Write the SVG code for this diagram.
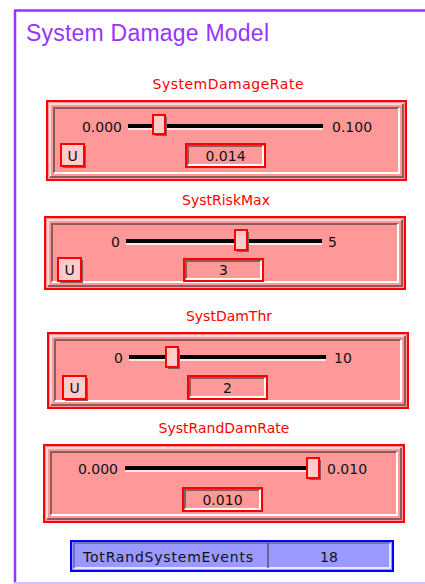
<svg xmlns="http://www.w3.org/2000/svg" width="425" height="584" viewBox="0 0 425 584">
<style>
.pf{fill:#FF9999;stroke:#FF0000;stroke-width:2}
.lt{fill:none;stroke:#FFD9D9;stroke-width:2}
.dk{fill:none;stroke:#8C5C5C;stroke-width:2}
.wt{fill:none;stroke:#FFFFFF;stroke-width:2}
.trk{stroke:#000;stroke-width:4}
.trw{stroke:#FFF;stroke-width:1.5}
.thumb{fill:#FFCCCC;stroke:#FF0000;stroke-width:2}
.btn{fill:#FFCCCC;stroke:#FF0000;stroke-width:2}
.vb{fill:#FF9999;stroke:#FF0000;stroke-width:2}
.lbl{font-family:"DejaVu Sans",sans-serif;font-size:14px;fill:#FF0000;text-anchor:middle}
.t{font-family:"DejaVu Sans",sans-serif;font-size:14px;fill:#111}
.c{text-anchor:middle}
.e{text-anchor:end}
</style>
<g id="frame">
<line x1="15" y1="10" x2="15" y2="584" stroke="#9933FF" stroke-width="2.5"/>
<line x1="14" y1="10.5" x2="425" y2="10.5" stroke="#9933FF" stroke-width="2.5"/>
<line x1="14" y1="583" x2="425" y2="583" stroke="#D9BFFF" stroke-width="2"/>
<text x="26" y="41" font-family="Liberation Sans,Arial,sans-serif" font-size="23" fill="#9933FF" textLength="243" lengthAdjust="spacing">System Damage Model</text>
</g>

<g id="SystemDamageRate">
<text class="lbl" x="228" y="89" textLength="151" lengthAdjust="spacing">SystemDamageRate</text>
<rect class="pf" x="47" y="101" width="359" height="79"/>
<polyline class="lt" points="50,177 50,104 403,104"/>
<polyline class="dk" points="403,104 403,177 50,177"/>
<polyline class="dk" points="54,173 54,108 399,108"/>
<polyline class="wt" points="399,108 399,173 54,173"/>
<line class="trk" x1="128" y1="126" x2="323" y2="126"/>
<line class="trw" x1="128" y1="129" x2="323" y2="129"/>
<text class="t e" x="122" y="132">0.000</text>
<text class="t" x="332" y="132">0.100</text>
<rect x="155" y="117" width="12" height="19" fill="#8C5C5C"/>
<rect class="thumb" x="153" y="115" width="12" height="19"/>
<rect x="63" y="146" width="23" height="22" fill="#8C5C5C"/>
<rect class="btn" x="61" y="144" width="23" height="22"/>
<text class="t c" x="72.5" y="161">U</text>
<rect class="vb" x="186" y="144" width="79" height="23"/>
<polyline class="dk" points="188,165 188,146 263,146"/>
<polyline class="wt" points="263,146 263,165 188,165"/>
<text class="t c" x="225.5" y="161">0.014</text>
</g>

<g id="SystRiskMax">
<text class="lbl" x="226" y="205">SystRiskMax</text>
<rect class="pf" x="45" y="217" width="360" height="72"/>
<polyline class="lt" points="48,286 48,220 402,220"/>
<polyline class="dk" points="402,220 402,286 48,286"/>
<polyline class="dk" points="52,282 52,224 398,224"/>
<polyline class="wt" points="398,224 398,282 52,282"/>
<line class="trk" x1="126" y1="241" x2="322" y2="241"/>
<line class="trw" x1="126" y1="244" x2="322" y2="244"/>
<text class="t e" x="120" y="247">0</text>
<text class="t" x="328" y="247">5</text>
<rect x="237" y="232" width="12" height="20" fill="#8C5C5C"/>
<rect class="thumb" x="235" y="230" width="12" height="20"/>
<rect x="60" y="260" width="23" height="23" fill="#8C5C5C"/>
<rect class="btn" x="58" y="258" width="23" height="23"/>
<text class="t c" x="69.5" y="275">U</text>
<rect class="vb" x="184" y="259" width="79" height="22"/>
<polyline class="dk" points="186,279 186,261 261,261"/>
<polyline class="wt" points="261,261 261,279 186,279"/>
<text class="t c" x="223.5" y="275">3</text>
</g>

<g id="SystDamThr">
<text class="lbl" x="229" y="321">SystDamThr</text>
<rect class="pf" x="48" y="333" width="360" height="75"/>
<polyline class="lt" points="51,405 51,336 405,336"/>
<polyline class="dk" points="405,336 405,405 51,405"/>
<polyline class="dk" points="55,401 55,340 401,340"/>
<polyline class="wt" points="401,340 401,401 55,401"/>
<line class="trk" x1="129" y1="357" x2="326" y2="357"/>
<line class="trw" x1="129" y1="360" x2="326" y2="360"/>
<text class="t e" x="123" y="363">0</text>
<text class="t" x="334" y="363">10</text>
<rect x="168" y="349" width="12" height="20" fill="#8C5C5C"/>
<rect class="thumb" x="166" y="347" width="12" height="20"/>
<rect x="65" y="378" width="23" height="23" fill="#8C5C5C"/>
<rect class="btn" x="63" y="376" width="23" height="23"/>
<text class="t c" x="74.5" y="393">U</text>
<rect class="vb" x="188" y="376" width="79" height="23"/>
<polyline class="dk" points="190,397 190,378 265,378"/>
<polyline class="wt" points="265,378 265,397 190,397"/>
<text class="t c" x="227.5" y="393">2</text>
</g>

<g id="SystRandDamRate">
<text class="lbl" x="224" y="433">SystRandDamRate</text>
<rect class="pf" x="44" y="445" width="360" height="77"/>
<polyline class="lt" points="47,519 47,448 401,448"/>
<polyline class="dk" points="401,448 401,519 47,519"/>
<polyline class="dk" points="51,515 51,452 397,452"/>
<polyline class="wt" points="397,452 397,515 51,515"/>
<line class="trk" x1="125" y1="468" x2="310" y2="468"/>
<line class="trw" x1="125" y1="471" x2="310" y2="471"/>
<text class="t e" x="118" y="474">0.000</text>
<text class="t" x="327" y="474">0.010</text>
<rect x="309" y="460" width="12" height="20" fill="#8C5C5C"/>
<rect class="thumb" x="307" y="458" width="12" height="20"/>
<rect class="vb" x="183" y="488" width="79" height="23"/>
<polyline class="dk" points="185,509 185,490 260,490"/>
<polyline class="wt" points="260,490 260,509 185,509"/>
<text class="t c" x="222.5" y="505">0.010</text>
</g>

<g id="TotRandSystemEvents">
<rect x="71" y="541" width="322" height="30" fill="#9999FF" stroke="#0000FF" stroke-width="2"/>
<polyline points="390,543 390,568 74,568" fill="none" stroke="#FFFFFF" stroke-width="1.5"/>
<polyline points="74,568 74,543 390,543" fill="none" stroke="#6666AA" stroke-width="1.5"/>
<line x1="268" y1="543" x2="268" y2="568" stroke="#555577" stroke-width="1.5"/>
<text class="t" x="83" y="562" textLength="170" lengthAdjust="spacing">TotRandSystemEvents</text>
<text class="t c" x="329" y="562">18</text>
</g>
</svg>
